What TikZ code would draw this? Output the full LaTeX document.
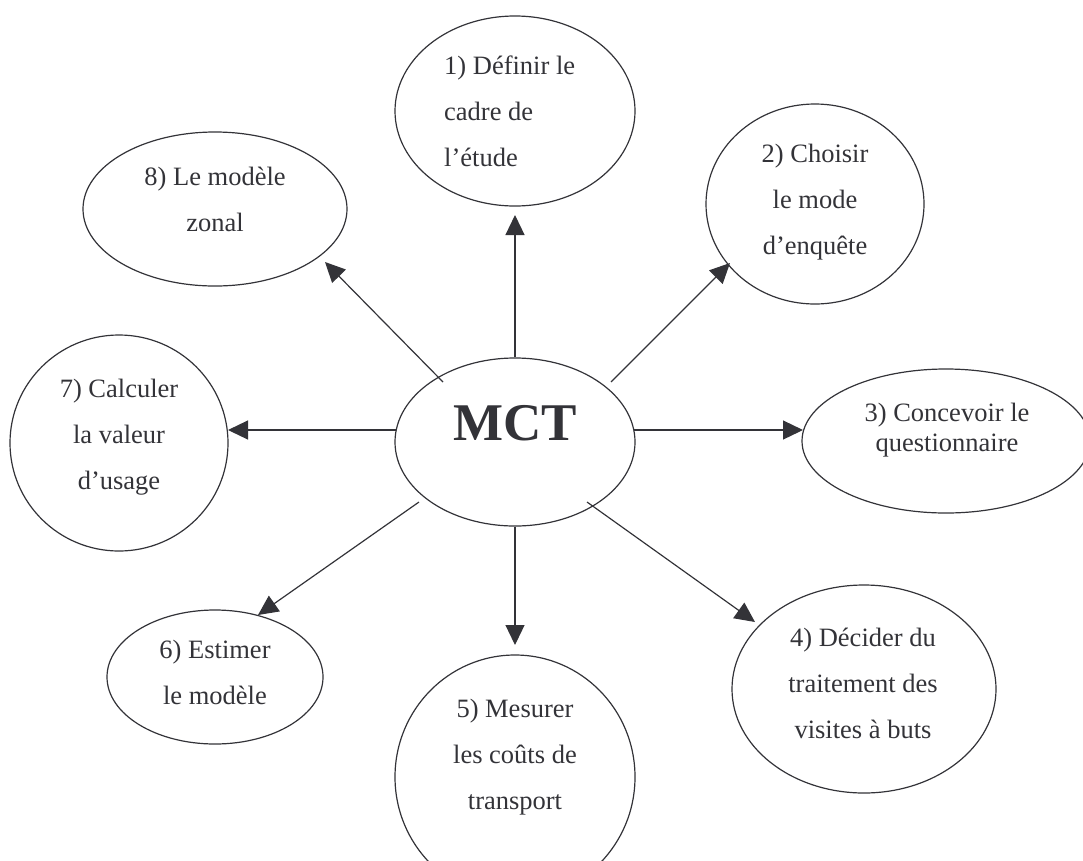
\documentclass[tikz,border=0pt]{standalone}
\usepackage{fontspec}
\setmainfont{Liberation Serif}
\usetikzlibrary{arrows.meta,shapes.geometric}
\definecolor{ink}{RGB}{51,51,56}
\begin{document}
\begin{tikzpicture}[x=1pt,y=-1pt,
  bub/.style={ellipse, draw=ink, line width=1.2pt, inner sep=0pt},
  lbl/.style={text=ink, font=\fontsize{26.5}{46}\selectfont, align=center, inner sep=0pt},
  arr/.style={draw=ink, line width=1.2pt, -{Triangle[length=20pt,width=19pt]}}]
\useasboundingbox (0,0) rectangle (1083,860);
% ellipses
\node[bub, minimum width=240pt, minimum height=168pt] (mct) at (515,442) {};
\node[bub, minimum width=240pt, minimum height=190pt] (n1) at (515,111) {};
\node[bub, minimum width=218pt, minimum height=200pt] (n2) at (815,204) {};
\node[bub, minimum width=288pt, minimum height=144pt] (n3) at (946,441) {};
\node[bub, minimum width=264pt, minimum height=208pt] (n4) at (864,689) {};
\node[bub, minimum width=240pt, minimum height=244pt] (n5) at (515,777) {};
\node[bub, minimum width=216pt, minimum height=134pt] (n6) at (215,677) {};
\node[bub, minimum width=218pt, minimum height=216pt] (n7) at (119,443) {};
\node[bub, minimum width=264pt, minimum height=154pt] (n8) at (215,209) {};
% texts
\node[text=ink, font=\fontsize{53}{60}\selectfont\bfseries, inner sep=0pt, anchor=base] (tm) at (515,440) {MCT};
\node[lbl, align=left, anchor=west] (t1) at (444,111) {1) Définir le\\cadre de\\l’étude};
\node[lbl] (t2) at (815,202) {2) Choisir\\le mode\\d’enquête};
\node[lbl, font=\fontsize{26.5}{30}\selectfont] (t3) at (947,430) {3) Concevoir le\\questionnaire};
\node[lbl] (t4) at (863,683) {4) Décider du\\traitement des\\visites à buts};
\node[lbl] (t5) at (515,757) {5) Mesurer\\les coûts de\\transport};
\node[lbl] (t6) at (215,672) {6) Estimer\\le modèle};
\node[lbl] (t7) at (119,437) {7) Calculer\\la valeur\\d’usage};
\node[lbl] (t8) at (215,199) {8) Le modèle\\zonal};
% connector end points
\coordinate (h1) at (515,215);
\coordinate (s2) at (611,382); \coordinate (h2) at (730,263);
\coordinate (s3) at (634,430); \coordinate (h3) at (803,430);
\coordinate (s4) at (587,502); \coordinate (h4) at (755,622);
\coordinate (h5) at (515,645);
\coordinate (s6) at (419,502); \coordinate (h6) at (258,615);
\coordinate (s7) at (396,430); \coordinate (h7) at (228,430);
\coordinate (s8) at (443,382); \coordinate (h8) at (325,262);
% connectors
\draw[arr] (mct.north) -- (h1);
\draw[arr] (s2) -- (h2);
\draw[arr] (s3) -- (h3);
\draw[arr] (s4) -- (h4);
\draw[arr] (mct.south) -- (h5);
\draw[arr] (s6) -- (h6);
\draw[arr] (s7) -- (h7);
\draw[arr] (s8) -- (h8);
\end{tikzpicture}
\end{document}
